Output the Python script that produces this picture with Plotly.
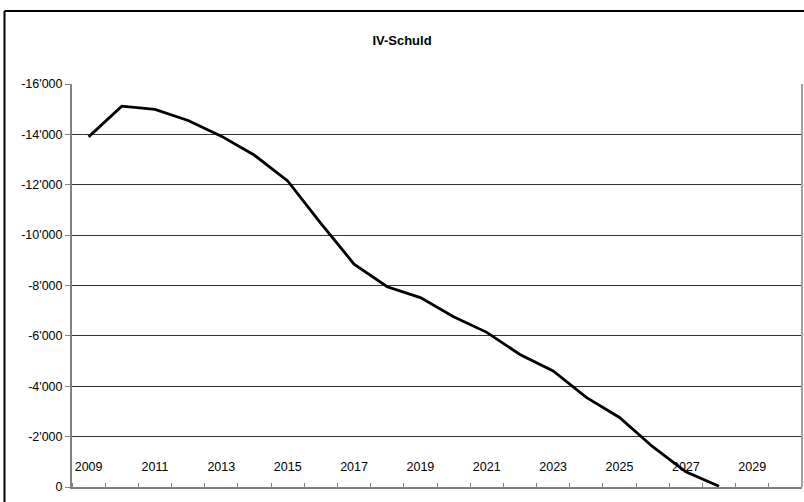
import plotly.graph_objects as go

years = list(range(2009, 2029))
schuld = [-13900, -15120, -14990, -14550, -13930, -13170, -12150, -10470,
          -8850, -7950, -7520, -6760, -6140, -5260, -4610, -3560, -2760,
          -1600, -600, -30]

tick_years = list(range(2009, 2030, 2))
y_ticks = [0, -2000, -4000, -6000, -8000, -10000, -12000, -14000, -16000]
y_tick_text = ["0", "-2'000", "-4'000", "-6'000", "-8'000", "-10'000",
               "-12'000", "-14'000", "-16'000"]

W, H = 804, 502
L, R, T, B = 72, 802, 84, 487

fig = go.Figure()
fig.add_trace(go.Scatter(x=years, y=schuld, mode="lines",
                         line=dict(color="black", width=2.8),
                         showlegend=False, hoverinfo="skip"))

FONT = "Liberation Sans, Arial, sans-serif"

fig.update_layout(
    width=W, height=H,
    margin=dict(l=L, r=W - R, t=T, b=H - B, pad=0, autoexpand=False),
    paper_bgcolor="white", plot_bgcolor="white",
    separators=".'",
    font=dict(family=FONT, size=12.5, color="black"),
    title=dict(text="<b>IV-Schuld</b>", x=0.5, xref="container", xanchor="center",
               y=1 - 40 / H, yref="container", yanchor="middle",
               font=dict(family=FONT, size=13, color="black")),
    xaxis=dict(range=[2008.5, 2030.5], tickmode="array", tickvals=tick_years,
               ticktext=[str(y) for y in tick_years],
               ticks="", ticklabelposition="outside", ticklabelstandoff=-33,
               showgrid=False, zeroline=False, automargin=False,
               showline=True, linecolor="#808080", linewidth=2,
               minor=dict(tick0=2008.5, dtick=1, ticks="inside", ticklen=4,
                          tickcolor="#808080", tickwidth=1, showgrid=False),
               tickfont=dict(size=12.5, color="black")),
    yaxis=dict(range=[0, -16000], tickmode="array", tickvals=y_ticks,
               ticktext=y_tick_text, ticks="outside", ticklen=5, tickcolor="#808080",
               tickwidth=1, showgrid=True, gridcolor="#333333", gridwidth=1,
               zeroline=False, showline=True, linecolor="#808080", linewidth=2,
               automargin=False, tickfont=dict(size=12.5, color="black")),
)

# outer chart frame (top and left edges visible)
fx = (4.5 - L) / (R - L)
fy = (B - 11) / (B - T)
fig.add_shape(type="line", xref="paper", yref="paper", x0=fx, x1=fx, y0=-0.2, y1=fy,
              line=dict(color="black", width=2))
fig.add_shape(type="line", xref="paper", yref="paper", x0=fx, x1=1.2, y0=fy, y1=fy,
              line=dict(color="black", width=2))
# right border of plot area
fig.add_shape(type="line", xref="paper", yref="paper", x0=1, x1=1, y0=0, y1=1,
              line=dict(color="#a0a0a0", width=2))

fig.write_html("out.html", config={"displayModeBar": False},
               post_script="document.body.style.margin='0';")
